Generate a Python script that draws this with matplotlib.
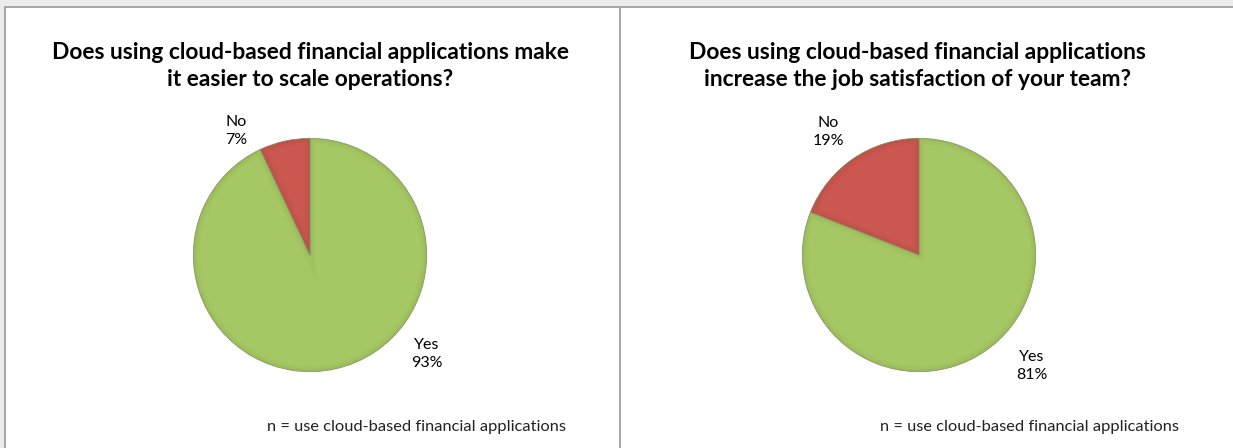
import matplotlib
matplotlib.use("Agg")
import matplotlib.pyplot as plt
from matplotlib.patches import Rectangle, Wedge

# Survey answers
answers = ["Yes", "No"]
scale_ops = [93, 7]
job_satisfaction = [81, 19]
titles = [
    "Does using cloud-based financial applications make\nit easier to scale operations?",
    "Does using cloud-based financial applications\nincrease the job satisfaction of your team?",
]
footnote = "n = use cloud-based financial applications"

W, H = 1233, 448
GREEN = "#a6c864"
RED = "#ca5850"
EDGE = {"Yes": "#7e9a45", "No": "#9a3d37"}
FONT = ["Lato", "DejaVu Sans"]

fig = plt.figure(figsize=(W / 100, H / 100), dpi=100)
fig.patch.set_facecolor("white")

# Frame in pixel coordinates
bg = fig.add_axes([0, 0, 1, 1])
bg.set_xlim(0, W)
bg.set_ylim(H, 0)
bg.axis("off")
bg.add_patch(Rectangle((0, 0), W, 7, color="#ececec", lw=0))
bg.add_patch(Rectangle((0, 0), 4, H, color="#ececec", lw=0))
bg.add_patch(Rectangle((4, 6.5), W - 4, 2, color="#a8a8a8", lw=0))
bg.add_patch(Rectangle((3.5, 6.5), 2, H, color="#a8a8a8", lw=0))
bg.add_patch(Rectangle((619, 6.5), 2, H, color="#a8a8a8", lw=0))


def px_axes(cx, cy, r):
    return fig.add_axes([(cx - r) / W, (H - cy - r) / H, 2 * r / W, 2 * r / H])


panels = [
    dict(values=scale_ops, cx=310, cy=255, r=119, title_x=310,
         label_pos={"No": (236, 131), "Yes": (427, 354)}, foot_x=566),
    dict(values=job_satisfaction, cx=919, cy=255, r=119, title_x=917,
         label_pos={"No": (828, 132), "Yes": (1032, 366)}, foot_x=1179),
]

for p in panels:
    ax = px_axes(p["cx"], p["cy"], p["r"])
    wedges, _ = ax.pie(p["values"], colors=[GREEN, RED], startangle=90,
                       counterclock=False, radius=1.0,
                       wedgeprops=dict(linewidth=0.6, edgecolor="#8d9a70"))
    ax.set_xlim(-1.02, 1.02)
    ax.set_ylim(-1.02, 1.02)
    ax.set_aspect("equal")
    # soft inner bevel along each slice edge
    for w, name in zip(wedges, answers):
        for lw, a in [(9, 0.06), (6, 0.08), (3, 0.12)]:
            rim = Wedge(w.center, w.r, w.theta1, w.theta2, fill=False,
                        edgecolor=EDGE[name], linewidth=lw, alpha=a)
            ax.add_patch(rim)
            rim.set_clip_path(w)

# Text layer above the pies
fg = fig.add_axes([0, 0, 1, 1])
fg.set_xlim(0, W)
fg.set_ylim(H, 0)
fg.axis("off")
fg.patch.set_alpha(0)

for p, title in zip(panels, titles):
    fg.text(p["title_x"], 66, title, ha="center", va="center",
            fontsize=16.4, fontweight="bold", family=FONT, linespacing=1.38)
    for name, val in zip(answers, p["values"]):
        x, y = p["label_pos"][name]
        fg.text(x, y, f"{name}\n{val}%", ha="center", va="center",
                fontsize=11.5, family=FONT, linespacing=1.3)
    fg.text(p["foot_x"], 427, footnote, ha="right", va="center",
            fontsize=11.8, family=FONT, color="#222222")

fig.savefig("out.png", dpi=100)
